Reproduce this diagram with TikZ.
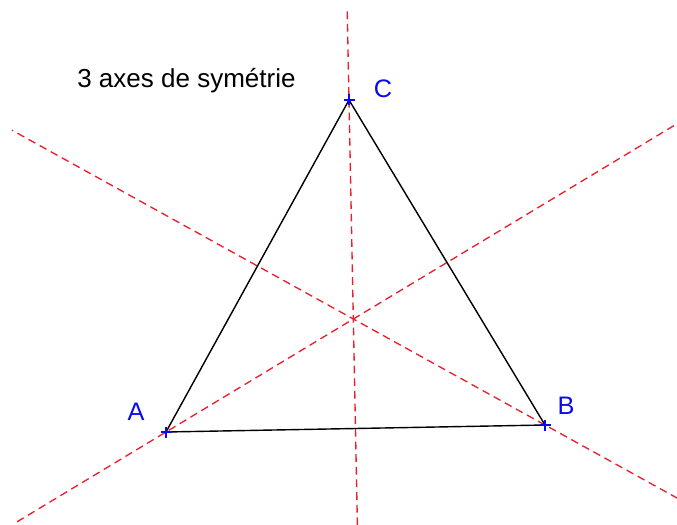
\documentclass[tikz,border=0pt]{standalone}
\usepackage{fontspec}
\setmainfont{Liberation Sans}
\usetikzlibrary{calc}
\definecolor{axisred}{RGB}{235,30,45}
\definecolor{ptblue}{RGB}{10,10,240}

\begin{document}
\begin{tikzpicture}[
    x=0.025cm, y=-0.025cm,
    side/.style={draw=black, line width=1pt},
    axis/.style={draw=axisred, line width=0.95pt, dash pattern=on 5.5pt off 3.5pt},
    pt/.style={draw=ptblue, line width=1.3pt},
    lbl/.style={text=ptblue, font=\fontsize{18}{20}\selectfont, inner sep=0pt}
]
    \clip (0,0) rectangle (677,525);

    % sommets
    \coordinate (A) at (166,432);
    \coordinate (B) at (545,425);
    \coordinate (C) at (349,100);

    % milieux des cotes
    \coordinate (mAB) at ($(A)!0.5!(B)$);
    \coordinate (mBC) at ($(B)!0.5!(C)$);
    \coordinate (mAC) at ($(A)!0.5!(C)$);

    % axes de symetrie
    \draw[axis] ($(C)!-0.27!(mAB)$) -- ($(C)!1.35!(mAB)$);
    \draw[axis] ($(A)!-0.53!(mBC)$) -- ($(A)!1.9!(mBC)$);
    \draw[axis] ($(B)!-0.5!(mAC)$) -- ($(B)!1.854!(mAC)$);

    % triangle
    \draw[side] (A) -- (B) -- (C) -- cycle;

    \foreach \p in {A,B,C}
        \draw[pt] (\p) +(-5.5,0) -- +(5.5,0) (\p) +(0,-5.5) -- +(0,5.5);

    \node[lbl] (lblA) at (136,412) {A};
    \node[lbl] (lblB) at (566,406) {B};
    \node[lbl] (lblC) at (383,89) {C};

    \node[font=\fontsize{18.5}{22}\selectfont, anchor=base west, inner sep=0pt] (titre) at (77,88) {3 axes de symétrie};
\end{tikzpicture}
\end{document}
